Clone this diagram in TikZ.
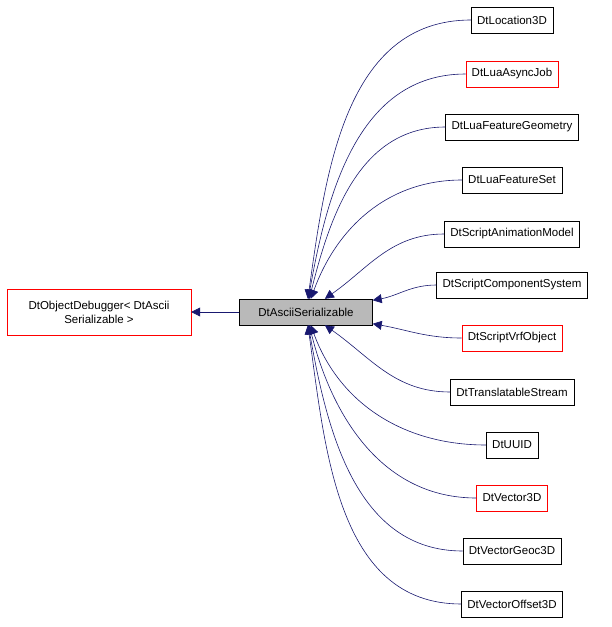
\documentclass[tikz,border=0pt]{standalone}
\usepackage{fontspec}
\setmainfont{Liberation Sans}
\usetikzlibrary{positioning,arrows.meta}
\definecolor{cnavy}{RGB}{25,25,112}
\begin{document}
\begin{tikzpicture}[x=1pt,y=-1pt,
    cls/.style={fill=white, minimum height=26pt, inner xsep=6pt,
                font=\fontsize{11.5}{14}\selectfont},
    inh/.style={draw=cnavy, -{Triangle[length=9pt,width=9pt]}, line width=0.6pt},
  ]
  \useasboundingbox (0,0) rectangle (611,627);
  % base and root
  \node[cls, draw=black, fill=gray!55, minimum width=133pt] (asc) at (306,312) {DtAsciiSerializable};
  \node[cls, draw=red, minimum width=184pt, minimum height=46pt, align=center] (dbg) at (99,312)
    {DtObjectDebugger\textless{} DtAscii\\Serializable \textgreater};
  \draw[inh] (asc.west) -- (dbg.east);
  % derived classes
  \foreach \nm/\txt/\yy/\col/\ang in {
      loc/DtLocation3D/20/black/82,
      job/DtLuaAsyncJob/74/red/80,
      geo/DtLuaFeatureGeometry/127/black/76,
      fset/DtLuaFeatureSet/180/black/70,
      anim/DtScriptAnimationModel/234/black/35,
      comp/DtScriptComponentSystem/285/black/10,
      vrf/DtScriptVrfObject/338/red/-10,
      strm/DtTranslatableStream/392/black/-35,
      uuid/DtUUID/445/black/-70,
      vec/DtVector3D/498/red/-76,
      vgeo/DtVectorGeoc3D/551/black/-80,
      voff/DtVectorOffset3D/604/black/-82} {
    \node[cls, draw=\col] (\nm) at (512,\yy) {\txt};
    \draw[inh] (\nm.west) to[out=180,in=\ang] (asc);
  }
\end{tikzpicture}
\end{document}
